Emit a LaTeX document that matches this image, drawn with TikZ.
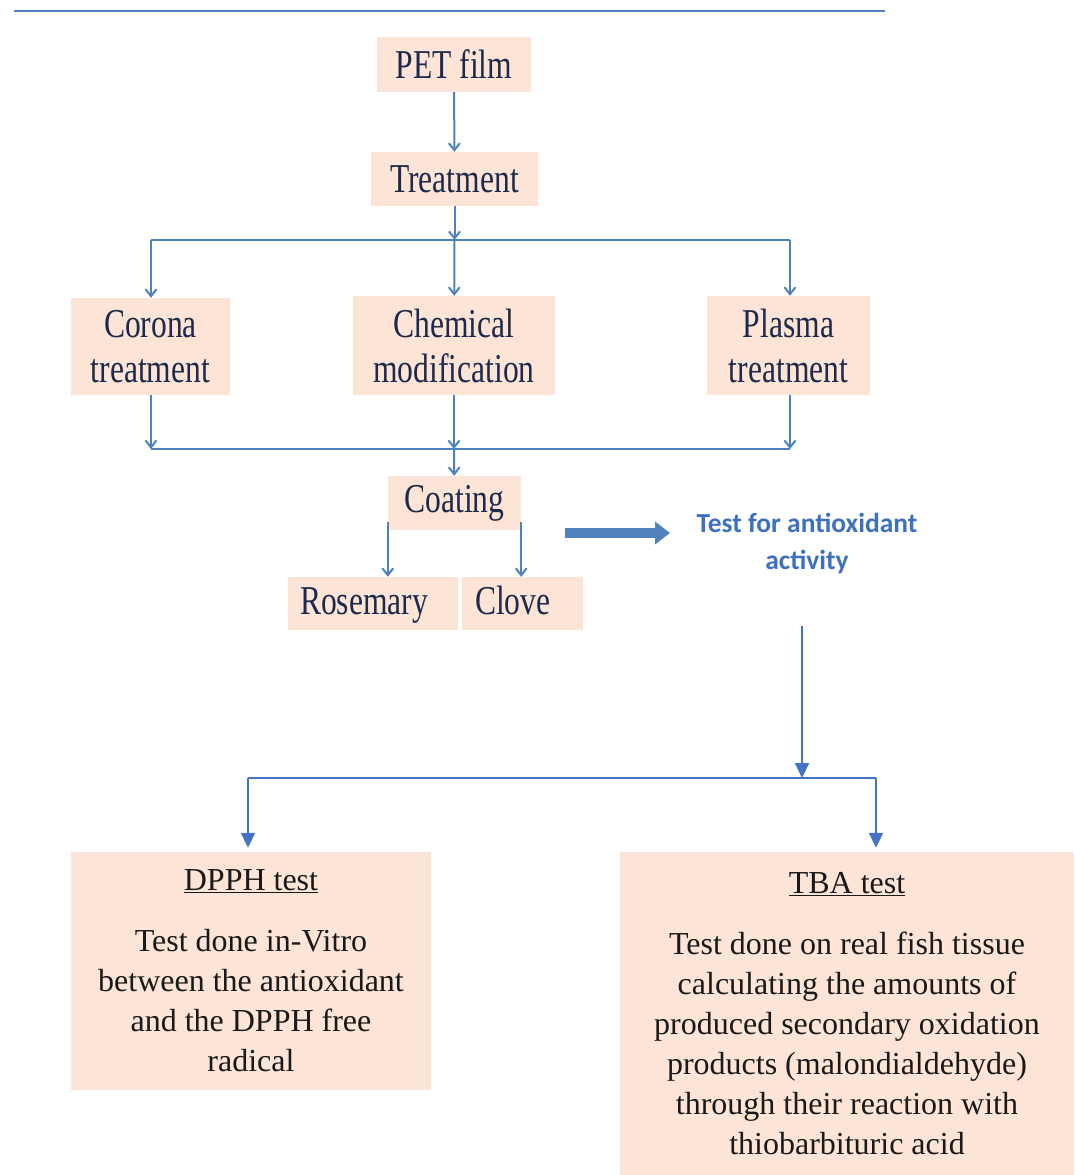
\documentclass[tikz,border=0pt]{standalone}
\usepackage{fontspec}
\setmainfont{Liberation Serif}
\newfontfamily\condfont[FakeStretch=0.77]{Liberation Serif}
\newfontfamily\labelfont{Carlito}
\usepackage{tikz}
\usetikzlibrary{arrows.meta}
\definecolor{peach}{RGB}{252,228,214}
\definecolor{linkblue}{RGB}{79,129,189}
\definecolor{forkblue}{RGB}{68,114,196}
\definecolor{navy}{RGB}{30,42,75}
\definecolor{testblue}{RGB}{62,112,192}
\definecolor{bodytext}{RGB}{25,25,25}

\begin{document}
\begin{tikzpicture}[x=1pt, y=-1pt,
    box/.style = {fill=peach, inner sep=0pt, align=center, text=navy, font=\condfont\fontsize{41}{45}\selectfont},
    resultbox/.style = {fill=peach, inner sep=0pt, align=center, text=bodytext, font=\fontsize{32}{40}\selectfont},
    testlabel/.style = {align=center, text=testblue, font=\labelfont\bfseries\fontsize{27.5}{37}\selectfont},
    link/.style = {draw=linkblue, line width=2pt, -{Straight Barb[length=7pt,width=11pt]}},
    bus/.style = {draw=linkblue, line width=2pt},
    forkbus/.style = {draw=forkblue, line width=2.5pt},
    bigarr/.style = {draw=forkblue, line width=2pt, -{Triangle[length=15pt,width=14pt]}},
    fatarrow/.style = {draw=linkblue, line width=10pt, -{Triangle[length=15pt,width=22pt]}}]
    \useasboundingbox (0,0) rectangle (1074,1175);

    \draw[bus, line width=2.5pt] (14,11) -- (885,11);

    \node[box, minimum width=154pt, minimum height=55pt] (pet) at (454,64.5) {PET film};
    \node[box, minimum width=167pt, minimum height=54pt] (treat) at (454.5,179) {Treatment};

    \node[box, minimum width=159pt, minimum height=97pt] (corona) at (150.5,346.5) {Corona\\treatment};
    \node[box, minimum width=202pt, minimum height=99pt] (chem) at (454,345.5) {Chemical\\modification};
    \node[box, minimum width=163pt, minimum height=99pt] (plasma) at (788.5,345.5) {Plasma\\treatment};

    \node[box, minimum width=133pt, minimum height=54pt] (coat) at (454.5,503) {Coating};
    \node[box, align=left, inner xsep=12pt, text width=146pt, text height=30pt, text depth=9pt, minimum height=53pt] (rose) at (373,603.5) {Rosemary};
    \node[box, align=left, inner xsep=13pt, text width=95pt, text height=30pt, text depth=9pt, minimum height=53pt] (clove) at (522.5,603.5) {Clove};

    \node[testlabel] (test) at (807,543) {Test for antioxidant\\activity};

    \node[resultbox, minimum width=360pt, minimum height=238pt] (dpph) at (251,971)
        {\underline{DPPH test}\\[21pt]Test done in-Vitro\\between the antioxidant\\and the DPPH free\\radical};
    \node[resultbox, minimum width=454pt, minimum height=323pt] (tba) at (847,1013.5)
        {\underline{TBA test}\\[21pt]Test done on real fish tissue\\calculating the amounts of\\produced secondary oxidation\\products (malondialdehyde)\\through their reaction with\\thiobarbituric acid};

    \coordinate (splitL) at (151,240);
    \coordinate (splitR) at (790,240);
    \coordinate (joinL) at (151,449);
    \coordinate (joinR) at (790,449);

    \draw[link] (pet) -- (treat);
    \draw[bus] (splitL) -- (splitR);
    \draw[link] (treat) -- (treat |- splitL);
    \draw[link] (splitL) -- (splitL |- corona.north);
    \draw[link] (treat |- splitL) -- (chem);
    \draw[link] (splitR) -- (splitR |- plasma.north);

    \draw[link] (corona.south -| joinL) -- (joinL);
    \draw[link] (chem) -- (chem |- joinL);
    \draw[link] (plasma.south -| joinR) -- (joinR);
    \draw[bus] (joinL) -- (joinR);
    \draw[link] (chem |- joinL) -- (coat);

    \draw[link] ([yshift=8pt]coat.south west) -- (coat.south west |- rose.north);
    \draw[link] ([yshift=8pt]coat.south east) -- (coat.south east |- clove.north);

    \coordinate (fatS) at (565,533);
    \coordinate (fatE) at (670,533);
    \draw[fatarrow] (fatS) -- (fatE);

    \coordinate (drop) at (802,626);
    \coordinate (forkL) at (248,778);
    \coordinate (forkR) at (876,778);
    \draw[bigarr] (drop) -- (drop |- forkL);
    \draw[forkbus] (forkL) -- (forkR);
    \draw[bigarr, shorten >=4pt] (forkL) -- (forkL |- dpph.north);
    \draw[bigarr, shorten >=4pt] (forkR) -- (forkR |- tba.north);
\end{tikzpicture}
\end{document}
